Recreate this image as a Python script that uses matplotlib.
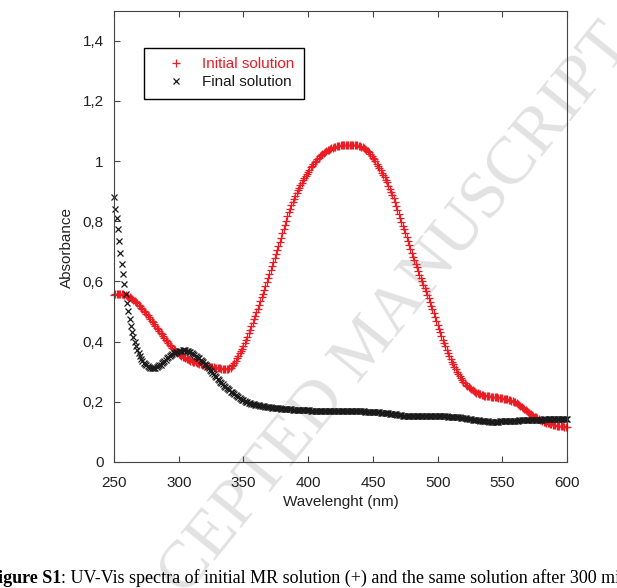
import matplotlib

matplotlib.use("Agg")
import matplotlib.pyplot as plt

plt.rcParams["font.family"] = ["Liberation Sans", "DejaVu Sans"]

# wavelength grid of the spectrometer export (1 nm step)
wavelength = list(range(250, 601))

# Initial MR solution (red "+")
initial_abs = [
    0.556, 0.557, 0.557, 0.558, 0.558, 0.558, 0.558, 0.557, 0.556, 0.554,  # 250
    0.552, 0.550, 0.548, 0.545, 0.542, 0.539, 0.535, 0.531, 0.527, 0.523,  # 260
    0.518, 0.513, 0.508, 0.503, 0.498, 0.492, 0.487, 0.481, 0.476, 0.470,  # 270
    0.464, 0.458, 0.453, 0.447, 0.441, 0.435, 0.429, 0.424, 0.418, 0.412,  # 280
    0.406, 0.401, 0.395, 0.390, 0.385, 0.380, 0.376, 0.371, 0.367, 0.363,  # 290
    0.360, 0.357, 0.353, 0.350, 0.348, 0.345, 0.343, 0.341, 0.339, 0.337,  # 300
    0.336, 0.334, 0.333, 0.331, 0.330, 0.328, 0.327, 0.325, 0.324, 0.322,  # 310
    0.321, 0.320, 0.319, 0.318, 0.317, 0.316, 0.315, 0.315, 0.314, 0.313,  # 320
    0.312, 0.312, 0.311, 0.310, 0.310, 0.309, 0.309, 0.309, 0.310, 0.311,  # 330
    0.314, 0.318, 0.323, 0.329, 0.337, 0.345, 0.353, 0.361, 0.369, 0.377,  # 340
    0.385, 0.395, 0.406, 0.417, 0.428, 0.440, 0.451, 0.462, 0.474, 0.485,  # 350
    0.497, 0.509, 0.522, 0.534, 0.547, 0.560, 0.573, 0.586, 0.599, 0.612,  # 360
    0.625, 0.638, 0.651, 0.664, 0.677, 0.690, 0.704, 0.718, 0.732, 0.746,  # 370
    0.760, 0.774, 0.788, 0.802, 0.816, 0.830, 0.842, 0.853, 0.864, 0.875,  # 380
    0.885, 0.894, 0.903, 0.912, 0.920, 0.928, 0.936, 0.944, 0.951, 0.958,  # 390
    0.965, 0.972, 0.979, 0.985, 0.991, 0.997, 1.002, 1.007, 1.012, 1.016,  # 400
    1.020, 1.024, 1.027, 1.030, 1.033, 1.036, 1.038, 1.040, 1.042, 1.044,  # 410
    1.046, 1.047, 1.049, 1.050, 1.051, 1.052, 1.053, 1.054, 1.054, 1.055,  # 420
    1.055, 1.055, 1.055, 1.055, 1.055, 1.055, 1.054, 1.053, 1.052, 1.051,  # 430
    1.050, 1.048, 1.046, 1.043, 1.041, 1.038, 1.034, 1.029, 1.024, 1.018,  # 440
    1.012, 1.006, 0.999, 0.992, 0.985, 0.978, 0.970, 0.962, 0.954, 0.946,  # 450
    0.938, 0.929, 0.919, 0.909, 0.899, 0.888, 0.876, 0.863, 0.851, 0.838,  # 460
    0.825, 0.812, 0.799, 0.786, 0.773, 0.760, 0.747, 0.734, 0.721, 0.708,  # 470
    0.695, 0.683, 0.671, 0.659, 0.647, 0.635, 0.623, 0.612, 0.601, 0.589,  # 480
    0.578, 0.567, 0.555, 0.544, 0.532, 0.520, 0.507, 0.494, 0.481, 0.468,  # 490
    0.455, 0.443, 0.431, 0.419, 0.407, 0.395, 0.384, 0.373, 0.363, 0.353,  # 500
    0.343, 0.334, 0.325, 0.316, 0.308, 0.300, 0.293, 0.286, 0.279, 0.273,  # 510
    0.267, 0.262, 0.257, 0.253, 0.249, 0.245, 0.242, 0.239, 0.236, 0.233,  # 520
    0.230, 0.228, 0.226, 0.225, 0.223, 0.222, 0.221, 0.220, 0.219, 0.218,  # 530
    0.218, 0.217, 0.217, 0.216, 0.216, 0.215, 0.215, 0.214, 0.213, 0.213,  # 540
    0.212, 0.211, 0.210, 0.209, 0.208, 0.207, 0.205, 0.204, 0.202, 0.200,  # 550
    0.198, 0.195, 0.192, 0.189, 0.186, 0.183, 0.180, 0.176, 0.173, 0.169,  # 560
    0.166, 0.163, 0.160, 0.157, 0.154, 0.151, 0.148, 0.146, 0.143, 0.141,  # 570
    0.138, 0.136, 0.134, 0.132, 0.131, 0.129, 0.128, 0.126, 0.125, 0.124,  # 580
    0.123, 0.122, 0.121, 0.120, 0.120, 0.119, 0.118, 0.118, 0.117, 0.117,  # 590
    0.117,                                                                 # 600
]

# Final solution (black "x")
final_abs = [
    0.881, 0.842, 0.811, 0.775, 0.735, 0.695, 0.658, 0.624, 0.591, 0.560,  # 250
    0.528, 0.501, 0.475, 0.452, 0.432, 0.414, 0.399, 0.385, 0.373, 0.362,  # 260
    0.352, 0.343, 0.336, 0.330, 0.325, 0.321, 0.318, 0.316, 0.314, 0.313,  # 270
    0.313, 0.313, 0.314, 0.316, 0.318, 0.321, 0.324, 0.328, 0.332, 0.336,  # 280
    0.340, 0.344, 0.348, 0.352, 0.355, 0.358, 0.361, 0.363, 0.365, 0.367,  # 290
    0.368, 0.369, 0.370, 0.371, 0.371, 0.371, 0.370, 0.369, 0.367, 0.365,  # 300
    0.362, 0.359, 0.356, 0.353, 0.350, 0.347, 0.344, 0.340, 0.336, 0.331,  # 310
    0.326, 0.321, 0.316, 0.311, 0.306, 0.301, 0.296, 0.291, 0.286, 0.281,  # 320
    0.276, 0.271, 0.266, 0.262, 0.258, 0.254, 0.250, 0.246, 0.242, 0.238,  # 330
    0.234, 0.231, 0.228, 0.225, 0.222, 0.219, 0.216, 0.213, 0.210, 0.207,  # 340
    0.205, 0.203, 0.201, 0.199, 0.197, 0.196, 0.194, 0.193, 0.192, 0.191,  # 350
    0.190, 0.189, 0.188, 0.187, 0.187, 0.186, 0.185, 0.184, 0.184, 0.183,  # 360
    0.182, 0.182, 0.181, 0.180, 0.180, 0.179, 0.179, 0.178, 0.178, 0.177,  # 370
    0.177, 0.177, 0.176, 0.176, 0.176, 0.175, 0.175, 0.175, 0.174, 0.174,  # 380
    0.174, 0.174, 0.173, 0.173, 0.173, 0.173, 0.173, 0.172, 0.172, 0.172,  # 390
    0.172, 0.172, 0.171, 0.171, 0.171, 0.171, 0.171, 0.170, 0.170, 0.170,  # 400
    0.170, 0.170, 0.170, 0.170, 0.169, 0.169, 0.169, 0.169, 0.169, 0.169,  # 410
    0.169, 0.169, 0.169, 0.168, 0.168, 0.168, 0.168, 0.168, 0.168, 0.168,  # 420
    0.168, 0.168, 0.168, 0.168, 0.168, 0.168, 0.168, 0.168, 0.168, 0.168,  # 430
    0.168, 0.168, 0.168, 0.168, 0.167, 0.167, 0.167, 0.167, 0.167, 0.167,  # 440
    0.167, 0.167, 0.166, 0.166, 0.165, 0.165, 0.164, 0.164, 0.163, 0.163,  # 450
    0.163, 0.162, 0.162, 0.161, 0.160, 0.160, 0.159, 0.158, 0.158, 0.157,  # 460
    0.156, 0.156, 0.155, 0.154, 0.154, 0.153, 0.153, 0.152, 0.152, 0.152,  # 470
    0.152, 0.152, 0.152, 0.152, 0.152, 0.152, 0.152, 0.152, 0.152, 0.152,  # 480
    0.152, 0.152, 0.152, 0.152, 0.152, 0.152, 0.152, 0.152, 0.152, 0.152,  # 490
    0.152, 0.152, 0.152, 0.152, 0.152, 0.152, 0.152, 0.152, 0.151, 0.151,  # 500
    0.151, 0.150, 0.150, 0.150, 0.149, 0.149, 0.148, 0.148, 0.147, 0.147,  # 510
    0.146, 0.145, 0.145, 0.144, 0.143, 0.143, 0.142, 0.141, 0.140, 0.140,  # 520
    0.139, 0.138, 0.138, 0.137, 0.137, 0.136, 0.136, 0.135, 0.135, 0.135,  # 530
    0.134, 0.134, 0.134, 0.134, 0.134, 0.134, 0.134, 0.134, 0.135, 0.135,  # 540
    0.135, 0.135, 0.135, 0.135, 0.136, 0.136, 0.136, 0.136, 0.137, 0.137,  # 550
    0.137, 0.137, 0.137, 0.138, 0.138, 0.138, 0.138, 0.139, 0.139, 0.139,  # 560
    0.139, 0.139, 0.140, 0.140, 0.140, 0.140, 0.140, 0.141, 0.141, 0.141,  # 570
    0.141, 0.141, 0.142, 0.142, 0.142, 0.142, 0.142, 0.143, 0.143, 0.143,  # 580
    0.143, 0.143, 0.143, 0.143, 0.144, 0.144, 0.144, 0.144, 0.144, 0.144,  # 590
    0.144,                                                                 # 600
]

xticks = [250, 300, 350, 400, 450, 500, 550, 600]
yticks = [0, 0.2, 0.4, 0.6, 0.8, 1.0, 1.2, 1.4]
ytick_labels = ["0", "0,2", "0,4", "0,6", "0,8", "1", "1,2", "1,4"]

RED = "#ec1c24"
BLACK = "#1a1a1a"
AXIS = "#444444"

fig = plt.figure(figsize=(6.17, 5.88), dpi=100)
ax = fig.add_axes([0.1848, 0.2143, 0.7342, 0.7675])
ax.patch.set_alpha(0)

ax.plot(wavelength, initial_abs, linestyle="none", marker="+", markersize=6,
        markeredgewidth=0.9, color=RED, label="Initial solution", clip_on=False)
ax.plot(wavelength, final_abs, linestyle="none", marker="x", markersize=4.8,
        markeredgewidth=0.9, color=BLACK, label="Final solution", clip_on=False)

ax.set_xlim(250, 600)
ax.set_ylim(0, 1.5)
ax.set_xticks(xticks)
ax.set_yticks(yticks)
ax.set_yticklabels(ytick_labels)

for side in ("left", "right", "top", "bottom"):
    ax.spines[side].set_color(AXIS)
    ax.spines[side].set_linewidth(0.8)
ax.tick_params(direction="in", length=4, width=0.8, color=AXIS,
               labelcolor="#222222", labelsize=11, top=True, right=False)
ax.tick_params(axis="x", pad=10)
ax.tick_params(axis="y", pad=7.5)

ax.set_xlabel("Wavelenght (nm)", fontsize=11, color="#222222", labelpad=4)
ax.set_ylabel("Absorbance", fontsize=11, color="#222222")
ax.yaxis.set_label_coords(-0.088, 0.476)

leg = ax.legend(loc="upper left", bbox_to_anchor=(0.0662, 0.9174),
                borderaxespad=0, fontsize=11, frameon=True, fancybox=False,
                framealpha=1, edgecolor="black", borderpad=0.62,
                handlelength=2.9, handletextpad=0.3, labelspacing=0.26,
                markerscale=0.95)
leg.get_frame().set_linewidth(1.0)
leg.get_texts()[0].set_color(RED)
leg.get_texts()[1].set_color(BLACK)

# journal watermark and cropped caption of the page
fig.text(0.595, 0.41, "ACCEPTED MANUSCRIPT", rotation=51,
         rotation_mode="anchor", ha="center", va="center", fontsize=49,
         family=["Liberation Serif"], color="#e2e2e2", zorder=-5)

renderer = fig.canvas.get_renderer()
cap_y = 1 - 583 / 588
bold = fig.text(-13 / 617, cap_y, "Figure S1", fontsize=13,
                fontweight="bold", family=["Liberation Serif"], va="baseline")
bb = bold.get_window_extent(renderer)
fig.text(bb.x1 / fig.bbox.width, cap_y,
         ": UV-Vis spectra of initial MR solution (+) and the same solution "
         "after 300 min", fontsize=13, family=["Liberation Serif"],
         va="baseline")

fig.savefig("out.png", dpi=100)
